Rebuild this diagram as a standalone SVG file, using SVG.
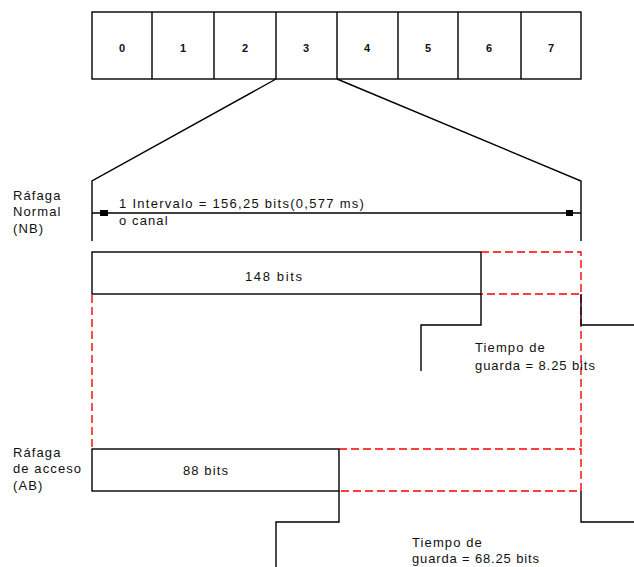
<svg xmlns="http://www.w3.org/2000/svg" width="634" height="567" viewBox="0 0 634 567">
<style>
.ln{fill:none;stroke:#000;stroke-width:1.4}
.rd{fill:none;stroke:#ff0000;stroke-width:1.4;stroke-dasharray:8,4}
text{font-family:"Liberation Sans",Arial,sans-serif;font-size:13px;letter-spacing:1.1px;fill:#111}
.dg{text-anchor:middle;font-weight:bold;font-size:11px;letter-spacing:0}
</style>
<rect width="634" height="567" fill="#fff"/>
<g id="timeslots">
<rect class="ln" x="92" y="12" width="489" height="67"/>
<path class="ln" d="M152,12V79M214,12V79M276,12V79M337,12V79M398,12V79M458,12V79M521,12V79"/>
<text class="dg" x="122" y="52">0</text>
<text class="dg" x="183" y="52">1</text>
<text class="dg" x="245" y="52">2</text>
<text class="dg" x="306" y="52">3</text>
<text class="dg" x="367" y="52">4</text>
<text class="dg" x="428" y="52">5</text>
<text class="dg" x="489" y="52">6</text>
<text class="dg" x="551" y="52">7</text>
</g>
<g id="connectors">
<path class="ln" d="M276,79L92,181V241"/>
<path class="ln" d="M337,79L581,181V241"/>
<path class="ln" d="M92,213H581"/>
<rect x="100" y="210" width="8" height="6" fill="#000"/>
<rect x="566" y="210" width="7" height="6" fill="#000"/>
<path class="rd" d="M92,295V449"/>
<path class="rd" d="M581,295V449"/>
</g>
<g id="interval-label">
<text x="119" y="208" textLength="246" lengthAdjust="spacing">1 Intervalo  =  156,25 bits(0,577 ms)</text>
<text x="119" y="225">o canal</text>
</g>
<g id="nb-label">
<text x="13" y="200">Ráfaga</text>
<text x="13" y="216">Normal</text>
<text x="13" y="233">(NB)</text>
</g>
<g id="nb-burst">
<rect class="ln" x="92" y="252" width="389" height="42"/>
<text x="245" y="281" textLength="58" lengthAdjust="spacing">148 bits</text>
<path class="rd" d="M481,252H581V294H481"/>
<path class="ln" d="M481,294V325H421V371"/>
<path class="ln" d="M581,294V325H634"/>
<text x="475" y="352">Tiempo de</text>
<text x="475" y="370" textLength="121" lengthAdjust="spacing">guarda = 8.25 bits</text>
</g>
<g id="ab-label">
<text x="13" y="457">Ráfaga</text>
<text x="13" y="473">de acceso</text>
<text x="13" y="490">(AB)</text>
</g>
<g id="ab-burst">
<rect class="ln" x="92" y="449" width="247" height="42"/>
<text x="183" y="475" textLength="46" lengthAdjust="spacing">88 bits</text>
<path class="rd" d="M339,449H581V491H339"/>
<path class="ln" d="M339,491V522H276V567"/>
<path class="ln" d="M581,491V522H634"/>
<text x="412" y="547">Tiempo de</text>
<text x="412" y="563" textLength="128" lengthAdjust="spacing">guarda = 68.25 bits</text>
</g>
</svg>
